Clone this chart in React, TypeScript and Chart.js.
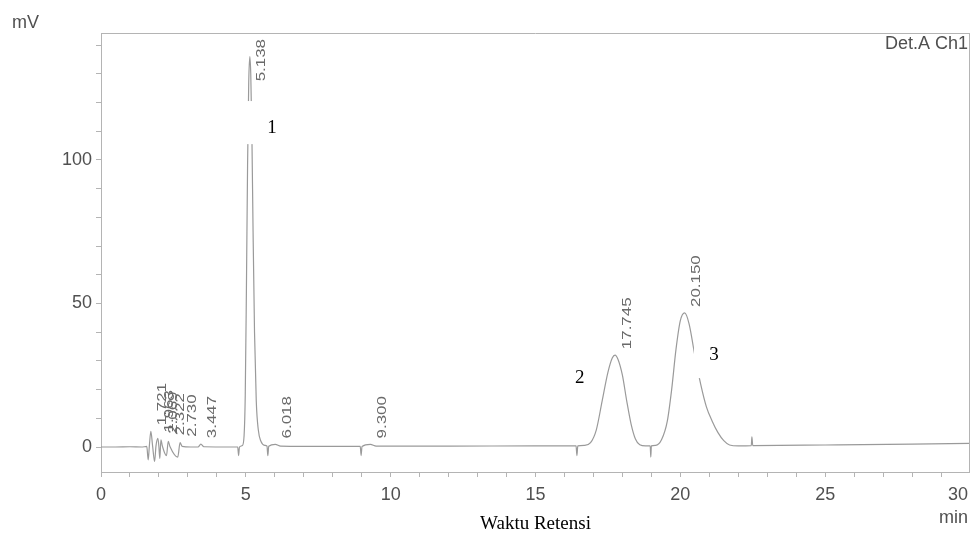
import React, { useEffect, useRef } from 'react';
import { Chart, registerables } from 'chart.js';

Chart.register(...registerables);

// Chromatogram trace (retention time in min, signal in mV)
const retentionTimes = [
  0.0, 0.5, 1.0, 1.4, 1.58, 1.63, 1.67, 1.721, 1.78, 1.85, 1.9, 1.963, 2.0, 2.03, 2.069, 2.12, 2.26, 2.322,
  2.38, 2.65, 2.73, 2.8, 3.1, 3.35, 3.447, 3.55, 4.5, 4.72, 4.75, 4.78, 4.88, 4.94, 4.98, 5.02, 5.06, 5.1,
  5.138, 5.17, 5.21, 5.25, 5.3, 5.36, 5.43, 5.52, 5.65, 5.73, 5.76, 5.79, 6.018, 6.2, 7.0, 8.0, 8.95, 8.98,
  9.01, 9.3, 9.5, 12.0, 15.0, 16.4, 16.43, 16.46, 16.7, 16.9, 17.1, 17.3, 17.5, 17.65, 17.745, 17.85, 18.0,
  18.15, 18.3, 18.45, 18.6, 18.8, 18.96, 18.98, 19.0, 19.15, 19.35, 19.55, 19.7, 19.85, 20.0, 20.15, 20.3,
  20.5, 20.7, 20.9, 21.1, 21.3, 21.5, 21.7, 22.0, 22.45, 22.47, 22.5, 25.0, 28.0, 30.0,
];
const signalMv = [
  0, 0, 0.1, 0, 0.2, -4.5, 0.5, 5.5, 0.5, -5, 0.5, 3, 0, -4, 2.5, 0.3, -3, 2,
  0.2, -3.5, 1.5, 0.2, 0, 0, 1, 0.1, 0, 0, -3, 0, 0.5, 4, 18, 55, 98, 127,
  136, 130, 108, 75, 40, 16, 6, 2, 0.6, 0.3, -3, 0.3, 0.9, 0.3, 0.2, 0.2, 0.2, -3,
  0.2, 0.9, 0.3, 0.3, 0.4, 0.4, -3, 0.4, 0.6, 1.5, 6, 16, 26, 31, 32, 30.5, 25,
  16, 8, 2.8, 0.8, 0.4, 0.4, -3.5, 0.4, 0.6, 2.5, 9, 20, 34, 44, 46.7, 43,
  32, 22, 14, 9, 5, 2.2, 0.7, 0.4, 0.5, 3.5, 0.5, 0.7, 1.0, 1.3,
];

// Peak retention-time labels
const peakLabelTimes = [1.721, 1.963, 2.069, 2.322, 2.73, 3.447, 5.138, 6.018, 9.3, 17.745, 20.15];
const peakLabelTexts = ['1.721', '1.963', '2.069', '2.322', '2.730', '3.447', '5.138', '6.018', '9.300', '17.745', '20.150'];

// Compound numbers
const compoundNames = ['1', '2', '3'];

// Axis ticks
const xMinorTicks = Array.from({ length: 31 }, (_, i) => i);
const xTickValues = [0, 5, 10, 15, 20, 25, 30];
const xTickLabels = ['0', '5', '10', '15', '20', '25', '30'];
const yMinorTicks = [0, 10, 20, 30, 40, 50, 60, 70, 80, 90, 100, 110, 120, 130, 140];
const yTickValues = [0, 50, 100];
const yTickLabels = ['0', '50', '100'];

const SANS = '"Liberation Sans", Arial, Helvetica, sans-serif';
const SERIF = '"Liberation Serif", "Times New Roman", serif';

function signalAt(t: number): number {
  let best = 0;
  let bd = Infinity;
  retentionTimes.forEach((rt, i) => {
    const d = Math.abs(rt - t);
    if (d < bd) {
      bd = d;
      best = i;
    }
  });
  return signalMv[best];
}

// Placement of the compound numbers (data coordinates) and their white boxes
const compoundStyle = [
  { tx: 5.9, ty: 111, box: [4.95, 6.55, 120.5, 105.5] },
  { tx: 16.53, ty: 24, box: [16.2, 16.85, 28.5, 19.5] },
  { tx: 21.16, ty: 32, box: [20.47, 21.9, 43, 24] },
];

const overlayPlugin = {
  id: 'overlay',
  afterDatasetsDraw(chart: any) {
    const ctx: CanvasRenderingContext2D = chart.ctx;
    const xs = chart.scales.x;
    const ys = chart.scales.y;
    const ca = chart.chartArea;
    ctx.save();

    // frame top & right
    ctx.strokeStyle = '#b4b4b4';
    ctx.lineWidth = 1;
    ctx.beginPath();
    ctx.moveTo(ca.left, ca.top + 0.5);
    ctx.lineTo(ca.right, ca.top + 0.5);
    ctx.moveTo(ca.right - 0.5, ca.top);
    ctx.lineTo(ca.right - 0.5, ca.bottom);
    ctx.stroke();

    // white boxes + compound numbers
    compoundNames.forEach((name, i) => {
      const st = compoundStyle[i];
      const x1 = xs.getPixelForValue(st.box[0]);
      const x2 = xs.getPixelForValue(st.box[1]);
      const y1 = ys.getPixelForValue(st.box[2]);
      const y2 = ys.getPixelForValue(st.box[3]);
      ctx.fillStyle = '#ffffff';
      ctx.fillRect(x1, y1, x2 - x1, y2 - y1);
      ctx.fillStyle = '#000000';
      ctx.font = '19px ' + SERIF;
      ctx.textAlign = 'center';
      ctx.textBaseline = 'middle';
      ctx.fillText(name, xs.getPixelForValue(st.tx), ys.getPixelForValue(st.ty));
    });

    // rotated retention time labels
    ctx.font = '13px ' + SANS;
    ctx.fillStyle = '#6a6a6a';
    const stretch = 1.3;
    peakLabelTimes.forEach((t, i) => {
      const text = peakLabelTexts[i];
      const h = signalAt(t);
      const px = xs.getPixelForValue(t) + 12;
      const py = ys.getPixelForValue(h);
      const len = ctx.measureText(text).width * stretch;
      let bottom = py - 6;
      if (bottom - len < ca.top + 6) bottom = ca.top + 6 + len;
      ctx.save();
      ctx.translate(px, bottom);
      ctx.rotate(-Math.PI / 2);
      ctx.scale(stretch, 1);
      ctx.textAlign = 'left';
      ctx.textBaseline = 'middle';
      ctx.fillText(text, 0, 0);
      ctx.restore();
    });

    // x tick labels
    ctx.font = '18px ' + SANS;
    ctx.fillStyle = '#505050';
    ctx.textAlign = 'center';
    ctx.textBaseline = 'middle';
    xTickValues.forEach((v, i) => {
      const text = xTickLabels[i];
      const w = ctx.measureText(text).width;
      let px = xs.getPixelForValue(v);
      px = Math.min(px, chart.width - 2 - w / 2);
      ctx.fillText(text, px, ca.bottom + 23);
    });

    // unit & detector texts
    ctx.textBaseline = 'alphabetic';
    ctx.textAlign = 'left';
    ctx.fillText('mV', 12, 28);
    ctx.textAlign = 'right';
    ctx.fillText('Det.A Ch1', chart.width - 2, 49);
    ctx.fillText('min', chart.width - 2, 523);

    // axis title
    ctx.fillStyle = '#000000';
    ctx.font = '19px ' + SERIF;
    ctx.textAlign = 'center';
    ctx.fillText('Waktu Retensi', (ca.left + ca.right) / 2, 529);

    ctx.restore();
  },
};

export default function App() {
  const canvasRef = useRef<HTMLCanvasElement | null>(null);

  useEffect(() => {
    document.body.style.margin = '0';
    const canvas = canvasRef.current;
    if (!canvas) return;
    const chart = new Chart(canvas, {
      type: 'line',
      data: {
        datasets: [
          {
            data: retentionTimes.map((t, i) => ({ x: t, y: signalMv[i] })),
            borderColor: '#9a9a9a',
            borderWidth: 1.2,
            pointRadius: 0,
            cubicInterpolationMode: 'monotone',
            fill: false,
          },
        ],
      },
      options: {
        responsive: false,
        animation: false,
        devicePixelRatio: 1,
        layout: { padding: { top: 33, left: 0, right: 0, bottom: 0 } },
        plugins: { legend: { display: false }, tooltip: { enabled: false } },
        scales: {
          x: {
            type: 'linear',
            min: 0,
            max: 30,
            afterBuildTicks: (s: any) => {
              s.ticks = xMinorTicks.map((v) => ({ value: v }));
            },
            afterFit: (s: any) => {
              s.height = 61;
              s.paddingLeft = 0;
              s.paddingRight = 0;
            },
            ticks: { display: false },
            grid: { drawOnChartArea: false, drawTicks: true, tickLength: 5, color: '#b4b4b4' },
            border: { color: '#b4b4b4' },
          },
          y: {
            type: 'linear',
            min: -8.7,
            max: 144.2,
            afterBuildTicks: (s: any) => {
              s.ticks = yMinorTicks.map((v) => ({ value: v }));
            },
            afterFit: (s: any) => {
              s.width = 101;
              s.paddingTop = 0;
              s.paddingBottom = 0;
            },
            ticks: {
              callback: (v: any) => {
                const idx = yTickValues.indexOf(Number(v));
                return idx >= 0 ? yTickLabels[idx] : '';
              },
              font: { size: 18, family: SANS },
              color: '#505050',
              padding: 4,
            },
            grid: { drawOnChartArea: false, drawTicks: true, tickLength: 5, color: '#b4b4b4' },
            border: { color: '#b4b4b4' },
          },
        },
      } as any,
      plugins: [overlayPlugin],
    });
    return () => chart.destroy();
  }, []);

  return <canvas ref={canvasRef} width={970} height={533} style={{ display: 'block', width: 970, height: 533 }} />;
}
